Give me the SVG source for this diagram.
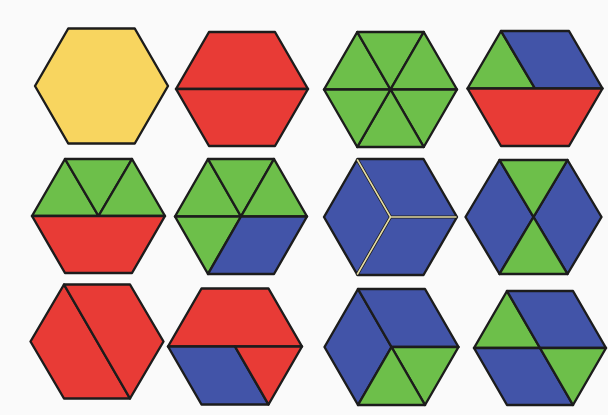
<svg xmlns="http://www.w3.org/2000/svg" width="608" height="415" viewBox="0 0 608 415">
<style>
.p{stroke:#1c1c1c;stroke-width:2.4;stroke-linejoin:round}
.y{fill:#f8d55f}.r{fill:#e83b36}.g{fill:#6dbf4a}.b{fill:#4254a8}
.cl{fill:none;stroke:#1c1c1c;stroke-width:3.2;stroke-linecap:round}
.cy{fill:none;stroke:#e4dca6;stroke-width:1.6;stroke-linecap:round}
</style>
<rect width="608" height="415" fill="#fafafa"/>
<g id="hex1">
<polygon class="p y" points="35,86 68.25,28.5 134.75,28.5 168,86 134.75,143.5 68.25,143.5"/>
</g>
<g id="hex2">
<polygon class="p r" points="176,89 209,32 275,32 308,89"/>
<polygon class="p r" points="176,89 308,89 275,146 209,146"/>
</g>
<g id="hex3">
<polygon class="p g" points="324,89.5 357.25,32 390.5,89.5"/>
<polygon class="p g" points="357.25,32 423.75,32 390.5,89.5"/>
<polygon class="p g" points="423.75,32 457,89.5 390.5,89.5"/>
<polygon class="p g" points="457,89.5 423.75,147 390.5,89.5"/>
<polygon class="p g" points="423.75,147 357.25,147 390.5,89.5"/>
<polygon class="p g" points="357.25,147 324,89.5 390.5,89.5"/>
</g>
<g id="hex4">
<polygon class="p g" points="467.5,88.5 501,31 535,88.5"/>
<polygon class="p b" points="501,31 569,31 602.5,88.5 535,88.5"/>
<polygon class="p r" points="467.5,88.5 602.5,88.5 569,146 501,146"/>
</g>
<g id="hex5">
<polygon class="p g" points="32,216 65,159 98.5,216"/>
<polygon class="p g" points="65,159 132,159 98.5,216"/>
<polygon class="p g" points="132,159 165,216 98.5,216"/>
<polygon class="p r" points="32,216 165,216 132,273 65,273"/>
</g>
<g id="hex6">
<polygon class="p g" points="175,216.5 208,159 241,216.5"/>
<polygon class="p g" points="208,159 274,159 241,216.5"/>
<polygon class="p g" points="274,159 307,216.5 241,216.5"/>
<polygon class="p g" points="175,216.5 241,216.5 208,274"/>
<polygon class="p b" points="241,216.5 307,216.5 274,274 208,274"/>
</g>
<g id="hex7">
<polygon class="p b" points="324,217 357.5,159 423.5,159 457,217 423.5,275 357.5,275"/>
<path class="cl" d="M357.5,160 L390.5,217 L456,217 M390.5,217 L357.5,274"/>
<path class="cy" d="M357.5,160 L390.5,217 L456,217 M390.5,217 L357.5,274"/>
</g>
<g id="hex8">
<polygon class="p b" points="465.5,217 499.5,160 533.5,217 499.5,274"/>
<polygon class="p b" points="567.5,160 601.5,217 567.5,274 533.5,217"/>
<polygon class="p g" points="499.5,160 567.5,160 533.5,217"/>
<polygon class="p g" points="499.5,274 567.5,274 533.5,217"/>
</g>
<g id="hex9">
<polygon class="p r" points="30.5,341.5 64,284.5 130,398.5 64,398.5"/>
<polygon class="p r" points="64,284.5 130,284.5 163.5,341.5 130,398.5"/>
</g>
<g id="hex10">
<polygon class="p r" points="168,346.5 201.5,288.5 268.5,288.5 302,346.5"/>
<polygon class="p b" points="168,346.5 235,346.5 268.5,404.5 201.5,404.5"/>
<polygon class="p r" points="235,346.5 302,346.5 268.5,404.5"/>
</g>
<g id="hex11">
<polygon class="p b" points="324.5,347 358,289 391.5,347 358,405"/>
<polygon class="p b" points="358,289 425,289 458.5,347 391.5,347"/>
<polygon class="p g" points="391.5,347 458.5,347 425,405"/>
<polygon class="p g" points="391.5,347 425,405 358,405"/>
</g>
<g id="hex12">
<polygon class="p g" points="474,348 507,291 540,348"/>
<polygon class="p b" points="507,291 573,291 606,348 540,348"/>
<polygon class="p b" points="474,348 540,348 573,405 507,405"/>
<polygon class="p g" points="540,348 606,348 573,405"/>
</g>
<g id="connectors"></g>
</svg>
